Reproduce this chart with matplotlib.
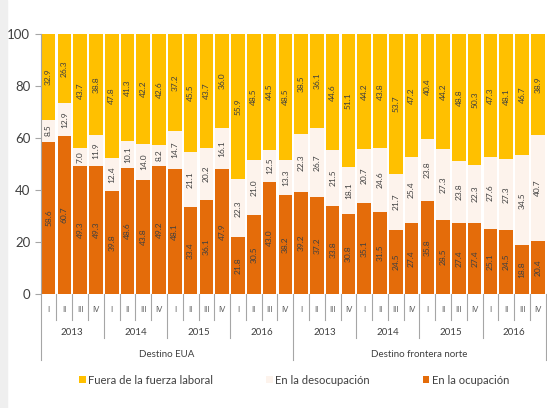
import matplotlib
matplotlib.use("Agg")
import matplotlib.pyplot as plt
from matplotlib.patches import Rectangle

plt.rcParams['font.family'] = ['Lato', 'DejaVu Sans']

groups = ["Destino EUA", "Destino frontera norte"]
years = ["2013", "2014", "2015", "2016"]
quarters = ["I", "II", "III", "IV"]

ocupacion = [58.6, 60.7, 49.3, 49.3, 39.8, 48.6, 43.8, 49.2,
             48.1, 33.4, 36.1, 47.9, 21.8, 30.5, 43.0, 38.2,
             39.2, 37.2, 33.8, 30.8, 35.1, 31.5, 24.5, 27.4,
             35.8, 28.5, 27.4, 27.4, 25.1, 24.5, 18.8, 20.4]
desocupacion = [8.5, 12.9, 7.0, 11.9, 12.4, 10.1, 14.0, 8.2,
                14.7, 21.1, 20.2, 16.1, 22.3, 21.0, 12.5, 13.3,
                22.3, 26.7, 21.5, 18.1, 20.7, 24.6, 21.7, 25.4,
                23.8, 27.3, 23.8, 22.3, 27.6, 27.3, 34.5, 40.7]
fuera = [32.9, 26.3, 43.7, 38.8, 47.8, 41.3, 42.2, 42.6,
         37.2, 45.5, 43.7, 36.0, 55.9, 48.5, 44.5, 48.5,
         38.5, 36.1, 44.6, 51.1, 44.2, 43.8, 53.7, 47.2,
         40.4, 44.2, 48.8, 50.3, 47.3, 48.1, 46.7, 38.9]

c_ocu = "#E46C0A"
c_des = "#FDF3EC"
c_fue = "#FFC000"
grid_c = "#A6A6A6"
txt_c = "#404040"

fig = plt.figure(figsize=(5.47, 4.08), dpi=100)
fig.patches.append(Rectangle((0, 0), 7 / 547, 1, transform=fig.transFigure,
                             color="#EFEFEF", zorder=0))
ax = fig.add_axes([40.7 / 547, 114 / 408, 505 / 547, 260 / 408])

n = len(ocupacion)
x = list(range(n))
w = 0.86
bot2 = [a + b for a, b in zip(ocupacion, desocupacion)]
ax.bar(x, ocupacion, w, color=c_ocu, label="En la ocupación")
ax.bar(x, desocupacion, w, bottom=ocupacion, color=c_des, label="En la desocupación")
ax.bar(x, fuera, w, bottom=bot2, color=c_fue, label="Fuera de la fuerza laboral")

for i in range(n):
    ax.text(i, ocupacion[i] / 2, f"{ocupacion[i]:.1f}", rotation=90,
            ha="center", va="center", fontsize=6, color=txt_c)
    ax.text(i, ocupacion[i] + desocupacion[i] / 2, f"{desocupacion[i]:.1f}",
            rotation=90, ha="center", va="center", fontsize=6, color=txt_c)
    ax.text(i, bot2[i] + fuera[i] / 2, f"{fuera[i]:.1f}", rotation=90,
            ha="center", va="center", fontsize=6, color=txt_c)

ax.set_xlim(-0.5, n - 0.5)
ax.set_ylim(0, 100)
ax.set_yticks([0, 20, 40, 60, 80, 100])
ax.tick_params(axis="y", labelsize=9.5, colors=grid_c, labelcolor=txt_c, length=4)
ax.set_xticks([])
for s in ["top", "right", "bottom"]:
    ax.spines[s].set_visible(False)
ax.spines["left"].set_color(grid_c)

# category axis with nested labels
tr = ax.get_xaxis_transform()
for k in range(n + 1):
    xs = k - 0.5
    if k % 16 == 0:
        y_end = -0.255
    elif k % 4 == 0:
        y_end = -0.17
    else:
        y_end = -0.1
    ax.plot([xs, xs], [0, y_end], color=grid_c, lw=0.8, transform=tr, clip_on=False)

for k in range(n):
    ax.text(k, -0.06, quarters[k % 4], transform=tr, ha="center", va="center",
            fontsize=5.5, color="#595959")
for j in range(n // 4):
    ax.text(j * 4 + 1.5, -0.147, years[j % 4], transform=tr, ha="center",
            va="center", fontsize=7, color=txt_c)
for g in range(len(groups)):
    ax.text(g * 16 + 7.5, -0.232, groups[g], transform=tr, ha="center",
            va="center", fontsize=7, color=txt_c)

h, l = ax.get_legend_handles_labels()
fig.legend(h[::-1], l[::-1], loc="center", bbox_to_anchor=(0.5375, 28 / 408),
           ncol=3, frameon=False, fontsize=8.1, handlelength=0.6, handleheight=0.6,
           handletextpad=0.2, columnspacing=4.7, labelcolor=txt_c)

fig.savefig("out.png", dpi=100)
